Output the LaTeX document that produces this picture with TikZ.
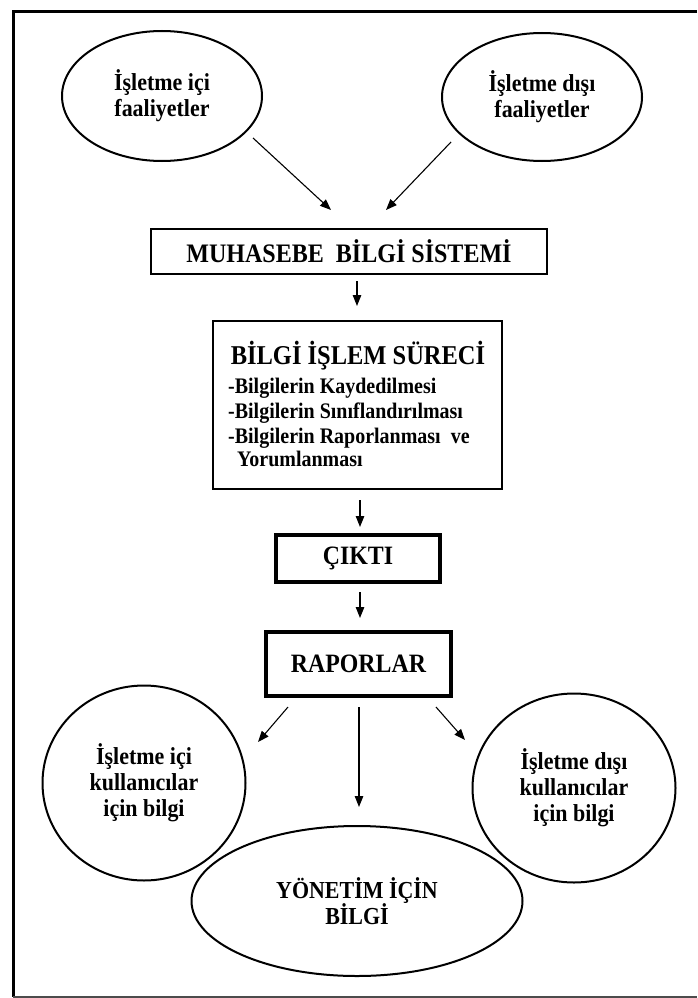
\documentclass[tikz,border=0pt]{standalone}
\usepackage{fontspec}
\setmainfont{Liberation Serif}[FakeStretch=0.9]
\usetikzlibrary{shapes.geometric,arrows.meta}
\begin{document}
\begin{tikzpicture}[x=1pt,y=-1pt,
  ell/.style={ellipse, draw, line width=2pt, inner sep=0pt, align=center, font=\bfseries\fontsize{24.4}{26}\selectfont},
  thinbox/.style={rectangle, draw, line width=2.5pt, inner sep=0pt, font=\bfseries\fontsize{26.7}{28}\selectfont},
  thickbox/.style={rectangle, draw, line width=4pt, inner sep=0pt, font=\bfseries\fontsize{26.5}{28}\selectfont},
  arr/.style={-{Triangle[length=11pt,width=8.5pt]}, line width=1.1pt},
  bul/.style={anchor=base west, inner sep=0pt, font=\bfseries\fontsize{22.2}{24}\selectfont}
]
\useasboundingbox (0,0) rectangle (697,998);
\fill[white] (0,0) rectangle (697,998);
% frame
\draw[line width=3pt] (697,12) -- (13,12) -- (13,997);
\draw[black!70, line width=1.5pt] (13,997) -- (697,997);

% top ellipses
\node[ell, minimum width=200pt, minimum height=130pt] (e1) at (162,96) {İşletme içi\\faaliyetler};
\node[ell, minimum width=200pt, minimum height=128pt] (e2) at (542,97) {İşletme dışı\\faaliyetler};

% muhasebe bilgi sistemi
\node[thinbox, minimum width=396pt, minimum height=45pt] (mbs) at (349,251.5) {MUHASEBE\ \ BİLGİ SİSTEMİ};

% bilgi islem sureci
\node[thinbox, minimum width=289pt, minimum height=168pt] (bis) at (357.5,405) {};
\node[anchor=base, inner sep=0pt, font=\bfseries\fontsize{27.2}{28}\selectfont] (bist) at (358,364) {BİLGİ İŞLEM SÜRECİ};
\node[bul] (b1) at (228,393) {-Bilgilerin Kaydedilmesi};
\node[bul] (b2) at (228,418) {-Bilgilerin Sınıflandırılması};
\node[bul] (b3) at (228,443) {-Bilgilerin Raporlanması\ \ ve};
\node[bul] (b4) at (237,466) {Yorumlanması};

% cikti, raporlar
\node[thickbox, minimum width=164pt, minimum height=47pt] (cikti) at (358,558.5) {ÇIKTI};
\node[thickbox, minimum width=185pt, minimum height=64pt] (rap) at (358.5,664) {RAPORLAR};

% bottom ellipses
\node[ell, minimum width=203pt, minimum height=195pt] (e3) at (144,783) {İşletme içi\\kullanıcılar\\için bilgi};
\node[ell, minimum width=203pt, minimum height=189pt] (e4) at (574,788) {İşletme dışı\\kullanıcılar\\için bilgi};
\node[ell, minimum width=331pt, minimum height=150pt] (e5) at (357,901) {YÖNETİM İÇİN\\BİLGİ};

% arrow end points
\coordinate (a1s) at (253,138); \coordinate (a1e) at (331,210);
\coordinate (a2s) at (451,142); \coordinate (a2e) at (386,210);
\coordinate (a3s) at (357,281); \coordinate (a3e) at (357,306);
\coordinate (a4s) at (360,500); \coordinate (a4e) at (360,527);
\coordinate (a5s) at (360,592); \coordinate (a5e) at (360,618);
\coordinate (a6s) at (288,707); \coordinate (a6e) at (258,742);
\coordinate (a7s) at (359,707); \coordinate (a7e) at (359,807);
\coordinate (a8s) at (436,707); \coordinate (a8e) at (465,740);

\draw[arr] (a1s) -- (a1e);
\draw[arr] (a2s) -- (a2e);
\draw[arr] (a3s) -- (a3e);
\draw[arr] (a4s) -- (a4e);
\draw[arr] (a5s) -- (a5e);
\draw[arr] (a6s) -- (a6e);
\draw[arr] (a7s) -- (a7e);
\draw[arr] (a8s) -- (a8e);
\end{tikzpicture}
\end{document}
